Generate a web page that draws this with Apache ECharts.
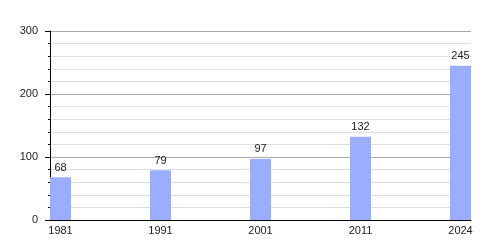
<!DOCTYPE html>
<html><head><meta charset="utf-8">
<script src="https://cdn.jsdelivr.net/npm/echarts@6/dist/echarts.min.js"></script>
<style>html,body{margin:0;padding:0;background:#fff}#c{width:500px;height:250px}</style>
</head><body><div id="c"></div>
<script>
const categories = ['1981', '1991', '2001', '2011', '2024'];
const values = [68, 79, 97, 132, 245];
const yTicks = [0, 100, 200, 300];

const chart = echarts.init(document.getElementById('c'), null, {renderer: 'canvas'});
const font = {fontFamily: 'Liberation Sans, Arial, sans-serif', fontSize: 11, color: '#222'};
chart.setOption({
  animation: false,
  grid: [
    {left: 50, right: 29, top: 31, bottom: 30},
    {left: 60.5, right: 39.5, top: 31, bottom: 30}
  ],
  xAxis: [
    {gridIndex: 0, type: 'value', min: 0, max: 1,
     axisLine: {show: true, lineStyle: {color: '#000', width: 1}},
     axisTick: {show: false}, axisLabel: {show: false}, splitLine: {show: false}},
    {gridIndex: 1, type: 'category', boundaryGap: false, data: categories,
     axisLine: {show: false}, axisTick: {show: false},
     axisLabel: Object.assign({margin: 5, interval: 0}, font)}
  ],
  yAxis: [
    {gridIndex: 0, type: 'value', min: yTicks[0], max: yTicks[yTicks.length - 1], interval: 100,
     axisLine: {show: true, lineStyle: {color: '#000', width: 1}},
     axisTick: {show: true, length: 5, lineStyle: {color: '#000'}},
     minorTick: {show: true, splitNumber: 5, length: 2, lineStyle: {color: '#000'}},
     axisLabel: Object.assign({margin: 12}, font),
     splitLine: {show: true, lineStyle: {color: '#a8a8a8', width: 1}},
     minorSplitLine: {show: true, lineStyle: {color: '#dedede', width: 1}}},
    {gridIndex: 1, type: 'value', min: yTicks[0], max: yTicks[yTicks.length - 1], show: false,
     splitLine: {show: false}}
  ],
  series: [{
    type: 'bar', xAxisIndex: 1, yAxisIndex: 1, data: values, barWidth: 21,
    itemStyle: {color: '#9aadff'},
    label: Object.assign({show: true, position: 'top', distance: 4}, font)
  }]
});
</script></body></html>
